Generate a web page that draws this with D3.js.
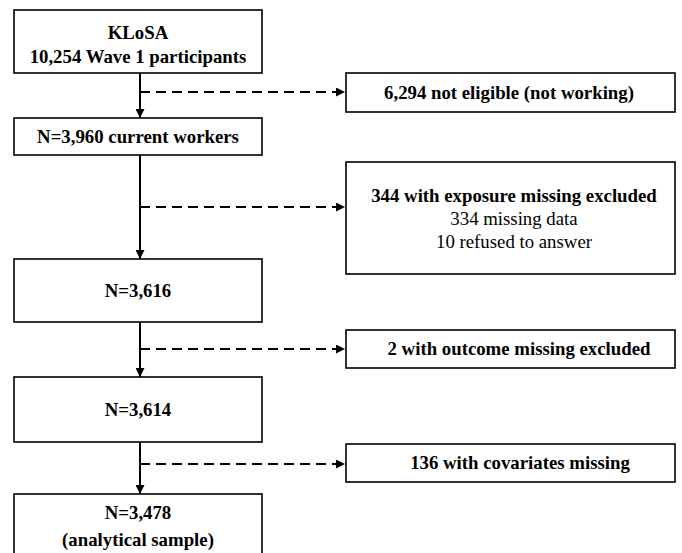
<!DOCTYPE html>
<html>
<head>
<meta charset="utf-8">
<script src="https://cdn.jsdelivr.net/npm/d3@7"></script>
<style>
html,body{margin:0;padding:0;background:#fff;}
svg{display:block;}
</style>
</head>
<body>
<svg id="chart" width="682" height="553"></svg>
<script>
// ---- data ----
const stageTitles = ["KLoSA", "", "", "", ""];
const stageCounts = [10254, 3960, 3616, 3614, 3478];
const stageSuffix = [" Wave 1 participants", " current workers", "", "", ""];
const stageNotes = ["", "", "", "", "(analytical sample)"];
const exclusionCounts = [6294, 344, 2, 136];
const exclusionLabels = [" not eligible (not working)", " with exposure missing excluded", " with outcome missing excluded", " with covariates missing"];
const exclusionDetailCounts = [[], [334, 10], [], []];
const exclusionDetailLabels = [[], [" missing data", " refused to answer"], [], []];

// ---- layout ----
const FONT = '"Liberation Serif", monospace';
const fmt = d3.format(",");
const svg = d3.select("#chart");
const defs = svg.append("defs");
defs.append("marker").attr("id","arr").attr("viewBox","0 0 10 10")
  .attr("refX",10).attr("refY",5).attr("markerWidth",9).attr("markerHeight",9)
  .attr("markerUnits","userSpaceOnUse").attr("orient","auto")
  .append("path").attr("d","M0,0L10,5L0,10Z").attr("fill","#000");

const mainTop = [10, 118, 259, 377, 494];
const mainBot = [73, 155, 322, 442, 570];
const mainX = d3.scaleLinear().domain([0,1]).range([14, 262]);
const spineX = 140;
const exTop = [73, 162, 330, 444];
const exBot = [112, 274, 368, 482];
const exX = d3.scaleLinear().domain([0,1]).range([346, 675]);
const exArrowY = [92, 207, 349, 464];
const exTextX = [509, 514, 519, 520];

const FS = 18.8;

function txt(sel, x, y, t, bold){
  return sel.append("text").attr("x",x).attr("y",y+FS*0.33)
    .attr("text-anchor","middle").attr("font-size",FS).attr("font-weight",bold?"bold":"normal")
    .style("font-family",FONT).text(t);
}

const g = svg.append("g");
for (let i=0;i<stageCounts.length-1;i++){
  g.append("line").attr("x1",spineX).attr("x2",spineX)
   .attr("y1",mainBot[i]).attr("y2",mainTop[i+1])
   .attr("stroke","#000").attr("stroke-width",2).attr("marker-end","url(#arr)");
}
stageCounts.forEach((c,i)=>{
  g.append("rect").attr("x",mainX(0)).attr("y",mainTop[i])
   .attr("width",mainX(1)-mainX(0)).attr("height",mainBot[i]-mainTop[i])
   .attr("fill","#fff").attr("stroke","#000").attr("stroke-width",1.6);
  const cx = (mainX(0)+mainX(1))/2;
  const lines = [];
  if (stageTitles[i]) lines.push(stageTitles[i]);
  lines.push((i===0?"":"N=") + fmt(c) + stageSuffix[i]);
  if (stageNotes[i]) lines.push(stageNotes[i]);
  let ys;
  if (i===0) ys=[33,57];
  else if (i===4) ys=[513,540];
  else ys=[(mainTop[i]+mainBot[i])/2];
  lines.forEach((t,k)=> txt(g, cx, ys[k], t, true));
});

exclusionCounts.forEach((c,i)=>{
  g.append("line").attr("x1",spineX).attr("x2",exX(0)-1)
   .attr("y1",exArrowY[i]).attr("y2",exArrowY[i])
   .attr("stroke","#000").attr("stroke-width",2).attr("stroke-dasharray","10,6")
   .attr("marker-end","url(#arr)");
  g.append("rect").attr("x",exX(0)).attr("y",exTop[i])
   .attr("width",exX(1)-exX(0)).attr("height",exBot[i]-exTop[i])
   .attr("fill","#fff").attr("stroke","#000").attr("stroke-width",1.6);
  const det = exclusionDetailCounts[i];
  if (det.length===0){
    txt(g, exTextX[i], (exTop[i]+exBot[i])/2, fmt(c)+exclusionLabels[i], true);
  } else {
    const ys=[196,219,242];
    txt(g, exTextX[i], ys[0], fmt(c)+exclusionLabels[i], true);
    det.forEach((d,k)=> txt(g, exTextX[i], ys[k+1], fmt(d)+exclusionDetailLabels[i][k], false));
  }
});
</script>
</body>
</html>
